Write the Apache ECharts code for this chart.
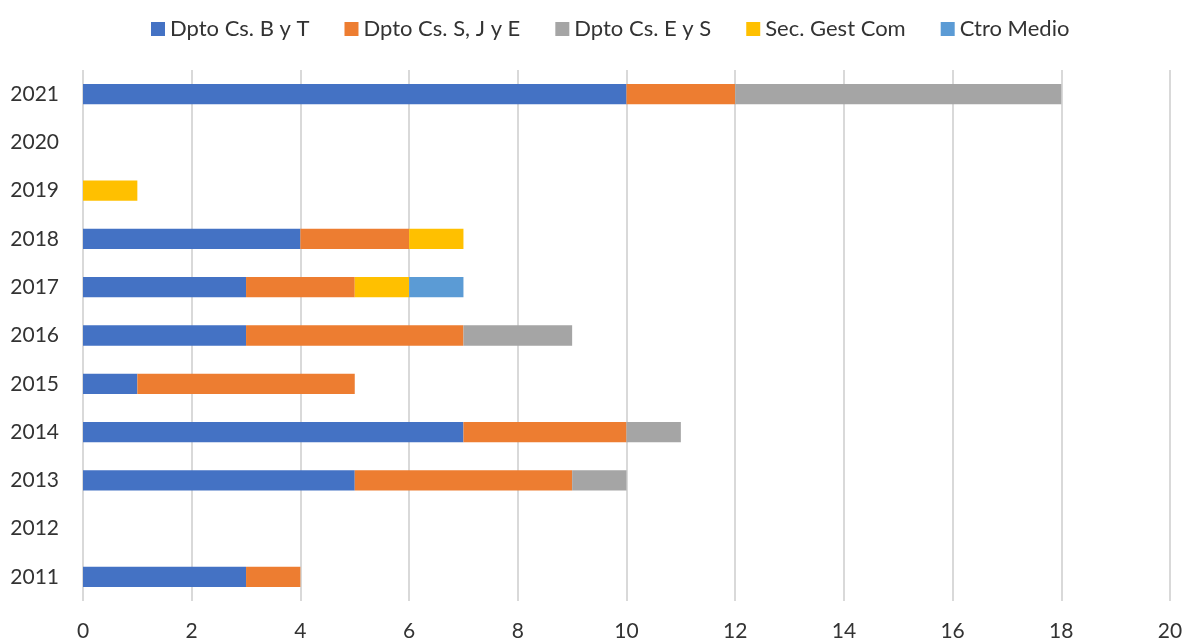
<!DOCTYPE html>
<html>
<head>
<meta charset="utf-8">
<script src="https://cdn.jsdelivr.net/npm/echarts@6/dist/echarts.min.js"></script>
<style>
  html, body { margin: 0; padding: 0; background: #fff; }
  #chart { width: 1186px; height: 644px; }
</style>
</head>
<body>
<div id="chart"></div>
<script>
let years = ["2011", "2012", "2013", "2014", "2015", "2016", "2017", "2018", "2019", "2020", "2021"]
let seriesNames = ["Dpto Cs. B y T", "Dpto Cs. S, J y E", "Dpto Cs. E y S", "Sec. Gest Com", "Ctro Medio"]
let colors = ["#4472C4", "#ED7D31", "#A5A5A5", "#FFC000", "#5B9BD5"]

let bioTec = [3, null, 5, 7, 1, 3, 3, 4, null, null, 10]
let socJur = [1, null, 4, 3, 4, 4, 2, 2, null, null, 2]
let ecoSoc = [null, null, 1, 1, null, 2, null, null, null, null, 6]
let gestCom = [null, null, null, null, null, null, 1, 1, 1, null, null]
let ctroMedio = [null, null, null, null, null, null, 1, null, null, null, null]
let xTicks = {min: 0, max: 20, interval: 2}

let values = [bioTec, socJur, ecoSoc, gestCom, ctroMedio]
let font = "Lato, 'Open Sans', sans-serif"

let chart = echarts.init(document.getElementById("chart"))

let option = {
    animation: false,
    color: colors,
    legend: {
        top: 13,
        left: 146,
        itemWidth: 14,
        itemHeight: 14,
        itemGap: 35,
        icon: "rect",
        textStyle: {fontSize: 22, color: "#333", fontFamily: font}
    },
    grid: {left: 83, right: 16, top: 70, bottom: 43, containLabel: false},
    xAxis: {
        type: "value",
        min: xTicks.min,
        max: xTicks.max,
        interval: xTicks.interval,
        axisLine: {show: false},
        axisTick: {show: false},
        axisLabel: {fontSize: 21, color: "#333", fontFamily: font, margin: 20},
        splitLine: {lineStyle: {color: "#D9D9D9", width: 2}}
    },
    yAxis: {
        type: "category",
        data: years,
        axisLine: {show: false},
        axisTick: {show: false},
        axisLabel: {fontSize: 21, color: "#333", fontFamily: font, margin: 24}
    },
    series: seriesNames.map(function (name, i) {
        return {
            name: name,
            type: "bar",
            stack: "total",
            barWidth: "42%",
            data: values[i]
        }
    })
}

chart.setOption(option)
</script>
</body>
</html>
